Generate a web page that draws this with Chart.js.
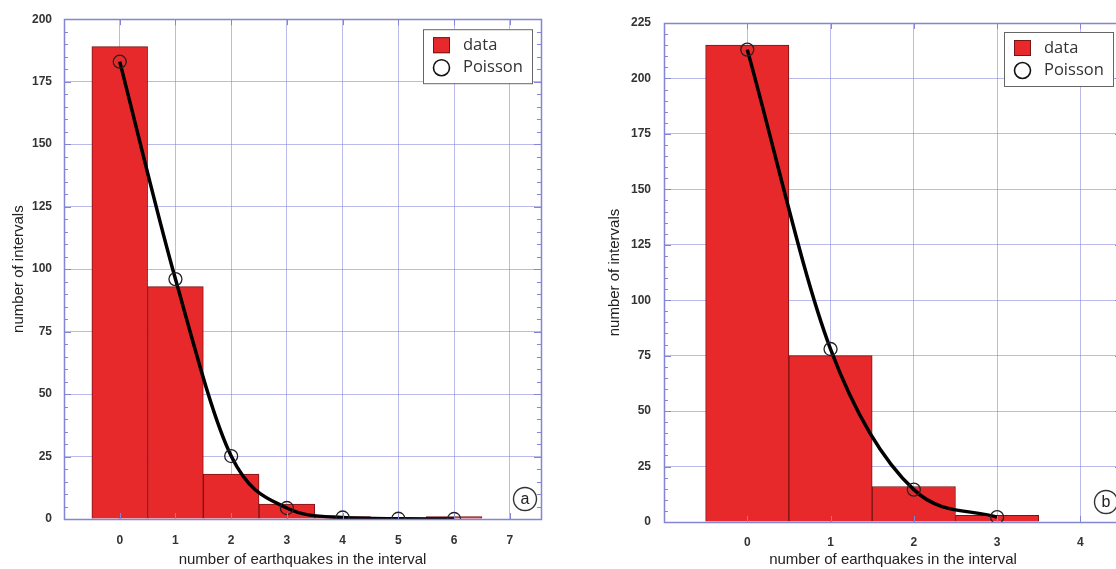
<!DOCTYPE html>
<html>
<head>
<meta charset="utf-8">
<script src="https://cdn.jsdelivr.net/npm/chart.js@4.4.1/dist/chart.umd.min.js"></script>
<style>
  html, body { margin: 0; padding: 0; background: #fff; overflow: hidden; }
  #wrap { position: relative; width: 1116px; height: 569px; overflow: hidden; }
  #chartA { position: absolute; left: 0; top: 0; }
  #chartB { position: absolute; left: 600px; top: 0; }
</style>
</head>
<body>
<div id="wrap">
  <canvas id="chartA" width="560" height="569"></canvas>
  <canvas id="chartB" width="541" height="569"></canvas>
</div>
<script>
// panel a
const countsA = [0, 1, 2, 3, 4, 5, 6];
const observedA = [189, 93, 18, 6, 1, 0, 1];
const poissonA = [183, 96, 25.2, 4.4, 0.6, 0.1, 0];
const xTicksA = [0, 1, 2, 3, 4, 5, 6, 7];

// panel b
const countsB = [0, 1, 2, 3];
const observedB = [215, 75, 16, 3];
const poissonB = [213, 78, 14.6, 2.2];
const xTicksB = [0, 1, 2, 3, 4];

const xTitle = "number of earthquakes in the interval";
const yTitle = "number of intervals";

const gridColor = "rgba(130,130,220,0.55)";
const frameColor = "#8585d6";

Chart.defaults.font.family = '"Liberation Sans", Arial, sans-serif';

// frame, inner ticks, panel letter and the boxed legend
const framePlugin = {
  id: "frame",
  afterDatasetsDraw(chart, args, opts) {
    const { ctx, chartArea: a, scales: { x, y } } = chart;
    const major = y.options.ticks.stepSize;
    ctx.save();
    ctx.strokeStyle = frameColor;
    ctx.lineWidth = 1;
    ctx.beginPath();
    for (let v = y.min; v <= y.max + 0.001; v += opts.minorStep) {
      const py = Math.round(y.getPixelForValue(v)) + 0.5;
      const len = v % major === 0 ? 7 : 4;
      ctx.moveTo(a.left, py); ctx.lineTo(a.left + len, py);
      ctx.moveTo(a.right, py); ctx.lineTo(a.right - len, py);
    }
    x.ticks.forEach((t) => {
      const px = Math.round(x.getPixelForValue(t.value)) + 0.5;
      ctx.moveTo(px, a.bottom); ctx.lineTo(px, a.bottom - 6);
      ctx.moveTo(px, a.top); ctx.lineTo(px, a.top + 6);
    });
    ctx.stroke();
    ctx.lineWidth = 1.5;
    ctx.strokeRect(Math.round(a.left) + 0.5, Math.round(a.top) + 0.5,
      Math.round(a.right - a.left), Math.round(a.bottom - a.top));

    // panel letter
    const cx = a.right - 16, cy = a.bottom - 20;
    ctx.strokeStyle = "#333";
    ctx.lineWidth = 1.4;
    ctx.beginPath();
    ctx.arc(cx, cy, 11.5, 0, Math.PI * 2);
    ctx.stroke();
    ctx.fillStyle = "#222";
    ctx.font = '16px "Liberation Sans", Arial, sans-serif';
    ctx.textAlign = "center";
    ctx.textBaseline = "middle";
    ctx.fillText(opts.letter, cx, cy + 1);

    // legend box
    const bw = 109, bh = 54;
    const bx = a.right - 9 - bw, by = a.top + opts.legendTop;
    ctx.fillStyle = "#fff";
    ctx.fillRect(bx, by, bw, bh);
    ctx.strokeStyle = "#666";
    ctx.lineWidth = 1;
    ctx.strokeRect(bx + 0.5, by + 0.5, bw, bh);
    ctx.font = '16.5px "Open Sans", sans-serif';
    ctx.textAlign = "left";
    chart.data.datasets.forEach((ds, i) => {
      const ry = by + 16 + i * 22.5;
      if (ds.type === "line") {
        ctx.strokeStyle = "#111";
        ctx.lineWidth = 1.6;
        ctx.beginPath();
        ctx.arc(bx + 18.5, ry, 8, 0, Math.PI * 2);
        ctx.stroke();
      } else {
        ctx.fillStyle = ds.backgroundColor;
        ctx.fillRect(bx + 10, ry - 8, 17, 16);
        ctx.strokeStyle = "#7a1414";
        ctx.lineWidth = 1;
        ctx.strokeRect(bx + 10.5, ry - 7.5, 16, 15);
      }
      ctx.fillStyle = "#333";
      ctx.fillText(ds.label, bx + 40, ry);
    });
    ctx.restore();
  }
};

function drawPanel(id, counts, observed, poisson, xTicks, p) {
  new Chart(document.getElementById(id), {
    type: "bar",
    data: {
      datasets: [
        {
          label: "data",
          data: counts.map((c, i) => ({ x: c, y: observed[i] })),
          backgroundColor: "#e8292b",
          borderColor: "#7a1414",
          borderWidth: 1,
          barPercentage: 1,
          categoryPercentage: 1,
          order: 1
        },
        {
          type: "line",
          label: "Poisson",
          data: counts.map((c, i) => ({ x: c, y: poisson[i] })),
          borderColor: "#000",
          borderWidth: 3.5,
          cubicInterpolationMode: "monotone",
          pointRadius: 6.5,
          pointBorderWidth: 1.3,
          pointBorderColor: "#222",
          pointBackgroundColor: "rgba(0,0,0,0)",
          order: 0
        }
      ]
    },
    options: {
      responsive: false,
      animation: false,
      layout: { padding: { top: p.top, right: 19, left: 0, bottom: 0 } },
      plugins: {
        legend: { display: false },
        tooltip: { enabled: false },
        frame: { letter: p.letter, minorStep: 5, legendTop: p.legendTop }
      },
      scales: {
        x: {
          type: "linear",
          offset: false,
          min: -1,
          max: p.xMax,
          afterBuildTicks: (s) => { s.ticks = xTicks.map((v) => ({ value: v })); },
          afterFit: (s) => { s.height = p.xHeight; },
          ticks: { color: "#333", font: { size: 12, weight: "bold" }, padding: p.xPad, maxRotation: 0 },
          grid: { color: gridColor, offset: false, drawTicks: false },
          border: { display: false },
          title: {
            display: true, text: xTitle, color: "#222",
            font: { size: 15 }, padding: { top: 0, bottom: 0 }
          }
        },
        y: {
          min: 0,
          max: p.yMax,
          afterFit: (s) => { s.width = 64; },
          ticks: { stepSize: 25, color: "#333", font: { size: 12, weight: "bold" }, padding: p.yPad },
          grid: { color: gridColor, drawTicks: false },
          border: { display: false },
          title: {
            display: true, text: yTitle, color: "#222",
            font: { size: 15 }, padding: { top: p.yTitlePad, bottom: 0 }
          }
        }
      }
    },
    plugins: [framePlugin]
  });
}

drawPanel("chartA", countsA, observedA, poissonA, xTicksA,
  { letter: "a", top: 19, xMax: 7.56, yMax: 200, xHeight: 50, xPad: 14, yPad: 12, yTitlePad: 10, legendTop: 10 });
drawPanel("chartB", countsB, observedB, poissonB, xTicksB,
  { letter: "b", top: 23, xMax: 4.5, yMax: 225, xHeight: 47, xPad: 13, yPad: 13, yTitlePad: 6, legendTop: 9 });
</script>
</body>
</html>
